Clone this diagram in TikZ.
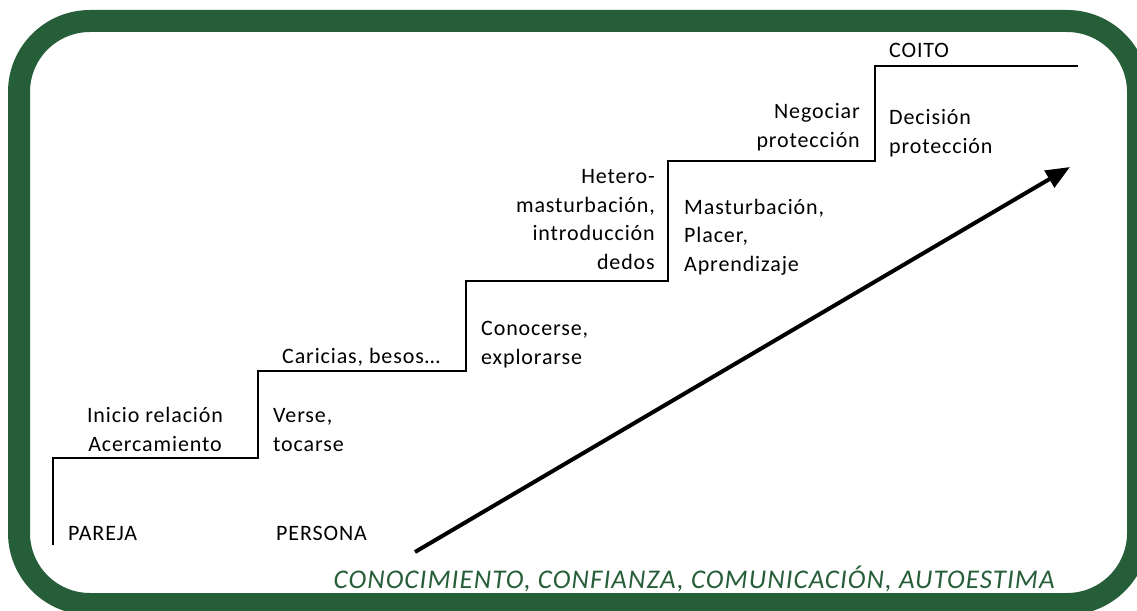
\documentclass[tikz,border=0pt]{standalone}
\usepackage{fontspec}
\setmainfont{Carlito}[LetterSpace=4]
\usetikzlibrary{arrows.meta}
\definecolor{framegreen}{RGB}{39,94,58}
\tikzset{
  stair/.style={line width=2pt},
  stage/.style={font=\fontsize{22}{28.5}\selectfont, inner sep=0pt},
  growth/.style={line width=4pt, -{Triangle[length=24pt,width=19pt]}},
}
\begin{document}
\begin{tikzpicture}[x=1pt,y=-1pt]
            \useasboundingbox (0,0) rectangle (1137,610);
            \draw[framegreen,line width=22pt,rounded corners=71pt] (19,21) rectangle (1138,604);
            % steps
            \foreach \n/\x/\y in {0/53/545,1/258/458,2/466/371,3/668/281,4/875/161,5/1078/66}
                \coordinate (s\n) at (\x,\y);
            \draw[stair] (s0) |- (s1) |- (s2) |- (s3) |- (s4) |- (s5);
            % labels, anchored on their last line
            \node[stage,anchor=base west] (pareja) at (68,540) {PAREJA};
            \node[stage,anchor=base west] (persona) at (276,540) {PERSONA};
            \node[stage,anchor=base,align=center] (inicio) at (155,451) {Inicio relación\\Acercamiento};
            \node[stage,anchor=base west,align=left] (verse) at (273,451) {Verse,\\tocarse};
            \node[stage,anchor=base west] (caricias) at (282,363) {Caricias, besos…};
            \node[stage,anchor=base west,align=left] (conocerse) at (481,364) {Conocerse,\\explorarse};
            \node[stage,anchor=base east,align=right] (hetero) at (655,269) {Hetero-\\masturbación,\\introducción\\dedos};
            \node[stage,anchor=base west,align=left] (mastur) at (684,271) {Masturbación,\\Placer,\\Aprendizaje};
            \node[stage,anchor=base east,align=right] (negociar) at (860,147) {Negociar\\protección};
            \node[stage,anchor=base west,align=left] (decision) at (889,153) {Decisión\\protección};
            \node[stage,anchor=base west] (coito) at (889,58) {COITO};
            % growth arrow
            \coordinate (a0) at (415,552);
            \coordinate (a1) at (1070,167);
            \draw[growth] (a0) -- (a1);
            \node[anchor=base east,inner sep=0pt,text=framegreen,font=\fontsize{27}{30}\selectfont\itshape] (pilares) at (1055,588) {CONOCIMIENTO, CONFIANZA, COMUNICACIÓN, AUTOESTIMA};
        \end{tikzpicture}
\end{document}
